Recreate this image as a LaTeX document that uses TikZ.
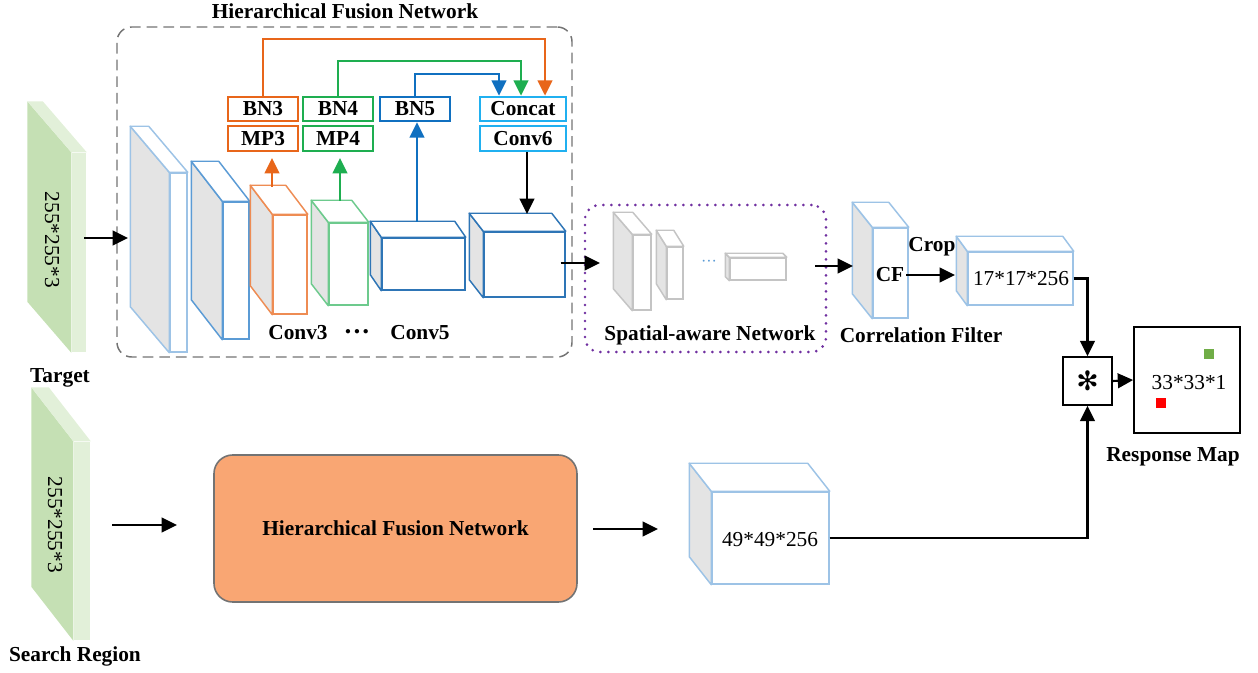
\documentclass[tikz,border=0pt]{standalone}
\usepackage{fontspec}
\setmainfont{Liberation Serif}
\newfontfamily\symfont{DejaVu Sans}
\usetikzlibrary{arrows.meta,calc,fit}

\definecolor{cubeLight}{HTML}{9DC3E6}
\definecolor{cubeMid}{HTML}{5B9BD5}
\definecolor{cubeDark}{HTML}{2E75B6}
\definecolor{sideGray}{HTML}{E4E4E4}
\definecolor{sanGray}{HTML}{C4C4C4}
\definecolor{cOrange}{HTML}{E8661A}
\definecolor{cGreen}{HTML}{1EAE50}
\definecolor{cBlue}{HTML}{1070C0}
\definecolor{cCyan}{HTML}{20B0F0}
\definecolor{cPurple}{HTML}{7030A0}
\definecolor{slabDark}{HTML}{C5E0B4}
\definecolor{slabLight}{HTML}{E2F0D9}
\definecolor{hfnFill}{HTML}{F9A673}
\definecolor{mapGreen}{HTML}{70AD47}
\definecolor{mapRed}{HTML}{FF0000}

% 3-D block: front face as a fitted node, plus its left and top faces
% #1 name, #2/#3 front corners, #4 depth offset, #5 edge colour, #6 side fill, #7 front fill
\newcommand\cuboid[7]{%
  \node[fit={#2 #3}, inner sep=0pt, draw=#5, fill=#7, line width=1.1pt] (#1) {};
  \draw[draw=#5, fill=#6, line width=1.1pt, line join=round]
    (#1.north west) -- ++#4 -- ($(#1.south west)+#4$) -- (#1.south west) -- cycle;
  \draw[draw=#5, fill=#7, line width=1.1pt, line join=round]
    (#1.north west) -- ++#4 -- ($(#1.north east)+#4$) -- (#1.north east) -- cycle;
}

\begin{document}
\begin{tikzpicture}[x=0.75pt,y=-0.75pt,
  font=\fontsize{16}{19}\selectfont,
  lbl/.style={font=\fontsize{16}{19}\selectfont\bfseries, inner sep=0pt},
  txt/.style={inner sep=0pt},
  tip/.style={-{Triangle[length=11.5pt,width=11pt]}},
  arr/.style={line width=1.6pt, tip},
  layerbox/.style={draw=#1, line width=1.6pt, minimum width=52pt, minimum height=18.5pt,
    inner sep=0pt, font=\fontsize{16}{19}\selectfont\bfseries},
]
\useasboundingbox (0,0) rectangle (1258,673);

% ---------- input slabs ----------
\cuboid{slabT}{(72,153)}{(86,352)}{(-44,-51)}{none}{slabDark}{slabLight}
\node[txt, rotate=-90] (slabTtxt) at (52,240) {255*255*3};
\node[lbl] (target) at (60,378) {Target};

\cuboid{slabS}{(74,442)}{(90,640)}{(-42,-54)}{none}{slabDark}{slabLight}
\node[txt, rotate=-90] (slabStxt) at (55,525) {255*255*3};
\node[lbl] (search) at (75,656) {Search Region};

% ---------- hierarchical fusion network (detailed) ----------
\node[fit={(117,27)(572,357)}, inner sep=0pt, draw=black!55, line width=1.1pt,
  dash pattern=on 8pt off 4.5pt, rounded corners=11pt] (hfn) {};
\node[lbl] (hfntitle) at (345,11) {Hierarchical Fusion Network};

\cuboid{b1}{(170,173)}{(187,352)}{(-39,-46)}{cubeLight}{sideGray}{white}
\cuboid{b2}{(223,202)}{(249,339)}{(-31,-40)}{cubeMid}{sideGray}{white}
\cuboid{b3}{(273,215)}{(307,314)}{(-22,-29)}{cOrange!75}{sideGray}{white}
\cuboid{b4}{(329,223)}{(368,305)}{(-17,-22)}{cGreen!65}{sideGray}{white}
\cuboid{b5}{(382,238)}{(465,290)}{(-11,-16)}{cubeDark}{sideGray}{white}
\cuboid{b6}{(484,232)}{(565,297)}{(-14,-18)}{cubeDark}{sideGray}{white}

\node[lbl] (conv3) at (298,333) {Conv3};
\node[lbl, font=\fontsize{20}{20}\selectfont\bfseries] (cdots) at (357,335) {···};
\node[lbl] (conv5) at (420,333) {Conv5};

\node[layerbox=cOrange] (bn3) at (263,109) {BN3};
\node[layerbox=cOrange] (mp3) at (263,138.5) {MP3};
\node[layerbox=cGreen] (bn4) at (338,109) {BN4};
\node[layerbox=cGreen] (mp4) at (338,138.5) {MP4};
\node[layerbox=cBlue] (bn5) at (415,109) {BN5};
\node[layerbox=cCyan, minimum width=65pt] (concat) at (523,109) {Concat};
\node[layerbox=cCyan, minimum width=65pt] (conv6) at (523,138.5) {Conv6};

% skip connections into the concatenation
\draw[line width=1.6pt, draw=cOrange, tip] (bn3.north) -- (bn3.north |- 0,39) -| ($(concat.north)+(22,0)$);
\draw[line width=1.6pt, draw=cGreen, tip] (bn4.north) -- (bn4.north |- 0,61) -| ($(concat.north)+(-2,0)$);
\draw[line width=1.6pt, draw=cBlue, tip] (bn5.north) -- (bn5.north |- 0,74) -| ($(concat.north)+(-24,0)$);

% features leaving the conv blocks
\coordinate (b3out) at (272,187);
\coordinate (b4out) at (340,201);
\coordinate (b5out) at (417,222);
\coordinate (b6in) at (527,214);
\draw[line width=1.6pt, draw=cOrange, tip] (b3out) -- ++(0,-29);
\draw[line width=1.6pt, draw=cGreen, tip] (b4out) -- ++(0,-43);
\draw[line width=1.6pt, draw=cBlue, tip] (b5out) -- (b5out |- bn5.south);
\draw[arr] (conv6.south -| b6in) -- (b6in);

% input arrow of the target branch
\coordinate (tin0) at (84,238);
\coordinate (tin1) at (128,238);
\draw[arr] (tin0) -- (tin1);

% ---------- spatial-aware network ----------
\node[fit={(585,205)(826,352)}, inner sep=0pt, draw=cPurple, line width=2.2pt,
  dash pattern=on 0pt off 6pt, line cap=round, rounded corners=11pt] (san) {};
\cuboid{sa1}{(633,235)}{(651,310)}{(-19,-22)}{sanGray}{sideGray}{white}
\cuboid{sa2}{(667,247)}{(683,299)}{(-10,-16)}{sanGray}{sideGray}{white}
\cuboid{sa3}{(730,258)}{(786,280)}{(-4,-4)}{sanGray}{sideGray}{white}
\node[txt, text=cubeMid, font=\fontsize{12}{12}\selectfont] (sadots) at (709,263) {···};
\node[lbl] (santitle) at (710,335) {Spatial-aware Network};

\coordinate (sanin) at (600,263);
\draw[arr] (b6.east |- sanin) ++(-5,0) -- (sanin);

% ---------- correlation filter ----------
\cuboid{cf}{(873,228)}{(908,318)}{(-20,-25)}{cubeLight}{sideGray}{white}
\node[lbl] (cftxt) at (890,275) {CF};
\node[lbl] (cftitle) at (921,335) {Correlation Filter};
\coordinate (sanout) at (815,266);
\coordinate (cfin) at (853,266);
\draw[arr] (sanout) -- (cfin);

\cuboid{b17}{(968,252)}{(1073,305)}{(-11,-15)}{cubeLight}{sideGray}{white}
\node[txt] (b17txt) at (1021,279) {17*17*256};
\node[lbl] (crop) at (932,247) {Crop};
\coordinate (cropend) at (955,275);
\draw[arr] (cftxt.east) ++(2,0) -- (cropend);

% ---------- search branch ----------
\node[fit={(214,455)(577,602)}, inner sep=0pt, draw=black!55, line width=1.2pt,
  fill=hfnFill, rounded corners=14pt] (hfn2) {};
\node[lbl] (hfn2txt) at (hfn2.center) {Hierarchical Fusion Network};
\coordinate (sin0) at (112,525);
\coordinate (sin1) at (177,525);
\draw[arr] (sin0) -- (sin1);
\coordinate (sout0) at (593,529);
\coordinate (sout1) at (658,529);
\draw[arr] (sout0) -- (sout1);

\cuboid{b49}{(712,492)}{(829,584)}{(-22,-28)}{cubeLight}{sideGray}{white}
\node[txt] (b49txt) at (770,540) {49*49*256};

% ---------- cross correlation and response ----------
\node[fit={(1063,357)(1112,405)}, inner sep=0pt, draw=black, line width=1.3pt] (star) {};
\node[txt, font=\symfont\fontsize{20}{20}\selectfont] (startxt) at (star.center) {✻};
\node[fit={(1134,327)(1240,433)}, inner sep=0pt, draw=black, line width=1.3pt] (resp) {};
\node[txt] (resptxt) at (1189,383) {33*33*1};
\node[fill=mapGreen, minimum size=7.5pt, inner sep=0pt] (peakG) at (1209,354) {};
\node[fill=mapRed, minimum size=7.5pt, inner sep=0pt] (peakR) at (1161,403) {};
\node[lbl] (resptitle) at (1173,457) {Response Map};

\draw[arr] (b17.east) -| (star.north);
\draw[arr] (b49.east) -| (star.south);
\draw[arr] (star.east) -- (resp.west);
\end{tikzpicture}
\end{document}
